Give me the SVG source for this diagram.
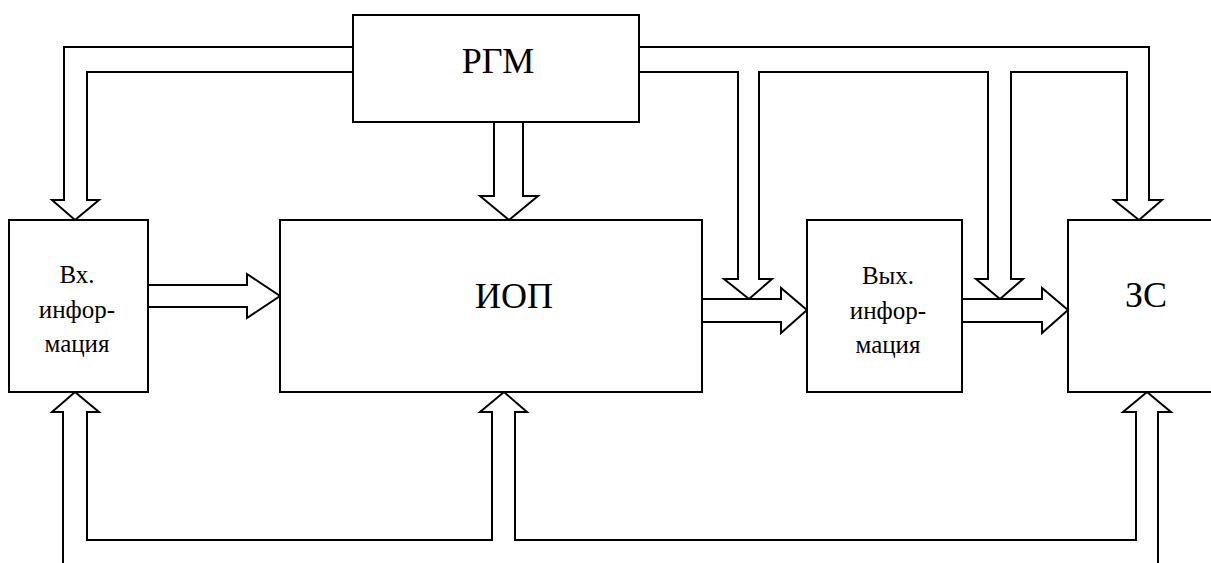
<svg xmlns="http://www.w3.org/2000/svg" width="1211" height="563" viewBox="0 0 1211 563">
<style>
.box{fill:#fff;stroke:#000;stroke-width:2}
.arr{fill:none;stroke:#000;stroke-width:2;stroke-linejoin:miter}
text{fill:#000;text-anchor:middle}
.big{font-family:'Times New Roman','Liberation Serif',serif;font-size:36px}
.small{font-family:'Times New Roman','Liberation Serif',serif;font-size:25px}
</style>
<rect width="1211" height="563" fill="#fff"/>
<g id="connectors">
<path class="arr" d="M353,47 H64 V200 H52 L75,220 L99,200 H87 V72 H353"/>
<path class="arr" d="M494,122 V196 H480 L509,220 L538,196 H523 V122"/>
<path class="arr" d="M639,47 H1149 V200 H1162 L1139,220 L1114,200 H1127 V72 H1011 V279 H1023 L1000,299 L976,279 H988 V72 H759 V279 H772 L749,299 L724,279 H738 V72 H639"/>
<path class="arr" d="M148,285 H247 V274 L280,296 L247,318 V307 H148"/>
<path class="arr" d="M702,299 H781 V288 L807,310 L781,333 V322 H702"/>
<path class="arr" d="M962,299 H1042 V288 L1068,310 L1042,333 V322 H962"/>
<path class="arr" d="M63,564 V412 H52 L75,392 L99,412 H87 V540 H492 V412 H480 L504,392 L527,412 H515 V540 H1136 V412 H1123 L1147,392 L1171,412 H1158 V564"/>
</g>
<g id="rgm">
<rect class="box" x="353" y="15" width="286" height="107"/>
<text class="big" x="498" y="73">РГМ</text>
</g>
<g id="vx">
<rect class="box" x="9" y="220" width="139" height="172"/>
<text class="small" x="77" y="283">Вх.</text>
<text class="small" x="77" y="318">инфор-</text>
<text class="small" x="77" y="352">мация</text>
</g>
<g id="iop">
<rect class="box" x="280" y="220" width="422" height="172"/>
<text class="big" x="514" y="308">ИОП</text>
</g>
<g id="vyx">
<rect class="box" x="807" y="220" width="155" height="172"/>
<text class="small" x="888" y="284">Вых.</text>
<text class="small" x="888" y="319">инфор-</text>
<text class="small" x="888" y="353">мация</text>
</g>
<g id="zs">
<rect class="box" x="1068" y="220" width="150" height="172"/>
<text class="big" x="1146" y="307">ЗС</text>
</g>
</svg>
